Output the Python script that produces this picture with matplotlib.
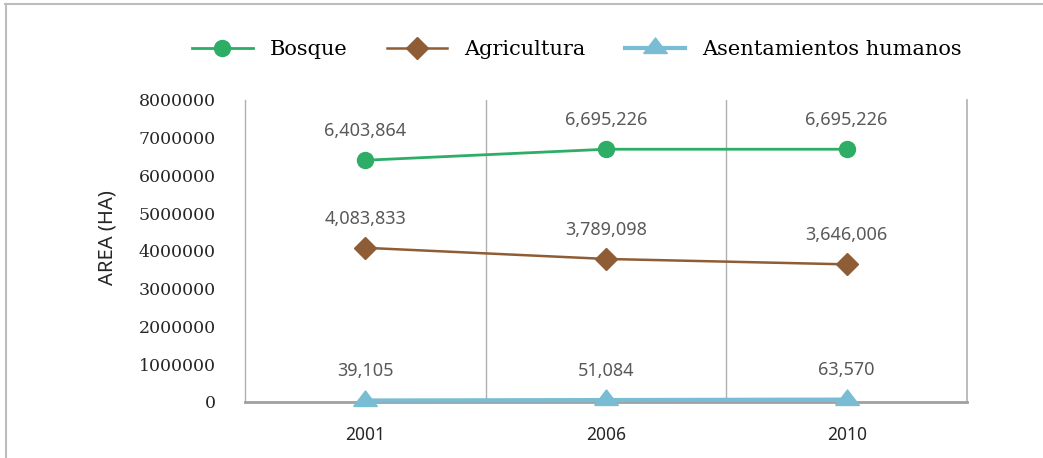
import matplotlib
matplotlib.use("Agg")
import matplotlib.pyplot as plt
from matplotlib.lines import Line2D

years = ["2001", "2006", "2010"]
bosque = [6403864, 6695226, 6695226]
agricultura = [4083833, 3789098, 3646006]
asentamientos = [39105, 51084, 63570]
series_names = ["Bosque", "Agricultura", "Asentamientos humanos"]
y_ticks = [0, 1000000, 2000000, 3000000, 4000000, 5000000, 6000000, 7000000, 8000000]

SERIF = "DejaVu Serif"
SANS = "Noto Sans"

# wide, flat triangle sitting slightly below the line
flat_triangle = [(-1, -0.42), (1, -0.42), (0, 0.89), (-1, -0.42)]

fig = plt.figure(figsize=(10.43, 4.58), dpi=100)
ax = fig.add_axes([0.2349, 0.1223, 0.6922, 0.6594])

x = list(range(len(years)))
styles = [
    (bosque, "#2EAD66", "o", 11.5, 2.0),
    (agricultura, "#8E5C35", "D", 11.5, 1.8),
    (asentamientos, "#78BDD3", flat_triangle, 17, 3.0),
]
handles = []
for (vals, color, marker, ms, lw), name in zip(styles, series_names):
    line, = ax.plot(x, vals, color=color, marker=marker, markersize=ms,
                    linewidth=lw, label=name, zorder=4, clip_on=False)
    handles.append(line)
    for xi, v in zip(x, vals):
        ax.annotate(f"{v:,}", (xi, v), xytext=(0, 21), textcoords="offset points",
                    ha="center", va="center", fontsize=13, color="#595959",
                    family=SANS)

ax.set_xlim(-0.5, 2.5)
ax.set_ylim(0, 8000000)
ax.set_xticks(x)
ax.set_xticklabels(years, family=SANS, fontsize=12.5, color="#262626")
ax.set_xticks([0.5, 1.5], minor=True)
ax.set_yticks(y_ticks)
ax.set_yticklabels([str(t) for t in y_ticks], family=SERIF, fontsize=12.5,
                   color="#262626")
ax.tick_params(axis="both", which="both", length=0)
ax.tick_params(axis="y", pad=21)
ax.tick_params(axis="x", pad=17)
ax.grid(True, axis="x", which="minor", color="#B0B0B0", linewidth=1)

ax.spines["top"].set_visible(False)
ax.spines["left"].set_color("#B0B0B0")
ax.spines["left"].set_linewidth(1)
ax.spines["right"].set_color("#B0B0B0")
ax.spines["right"].set_linewidth(1.2)
ax.spines["bottom"].set_color("#A0A0A0")
ax.spines["bottom"].set_linewidth(2)

ax.set_ylabel("AREA (HA)", family=SANS, fontsize=14.5, color="#262626", va="center")
ax.yaxis.set_label_coords(-0.191, 0.543)

fig.legend(handles=handles, loc="center", bbox_to_anchor=(0.553, 0.891), ncol=3,
           frameon=False, prop={"family": SERIF, "size": 15}, handlelength=2.9,
           handletextpad=0.8, columnspacing=1.9)

# outer chart border (top and left edges only)
fig.add_artist(Line2D([0.005, 1.0], [0.991, 0.991], color="#BDBDBD", linewidth=1.5,
                      transform=fig.transFigure))
fig.add_artist(Line2D([0.0055, 0.0055], [0.0, 0.991], color="#BDBDBD", linewidth=1.5,
                      transform=fig.transFigure))

fig.savefig("out.png", dpi=100)
plt.close(fig)
